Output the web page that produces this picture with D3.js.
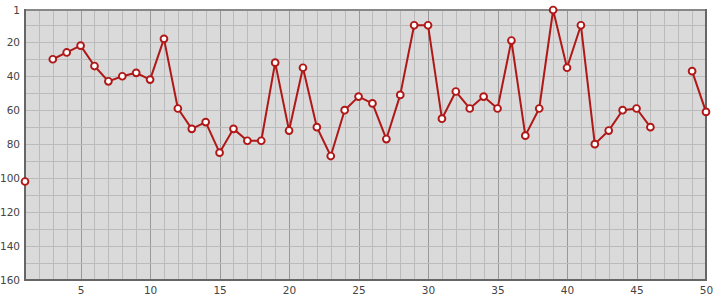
<!DOCTYPE html>
<html>
<head>
<meta charset="utf-8">
<script src="https://cdn.jsdelivr.net/npm/d3@7.9.0/dist/d3.min.js"></script>
<style>
  html, body { margin: 0; padding: 0; background: #fff; }
  svg { display: block; }
  .tick-label { font-family: "DejaVu Sans", Verdana, sans-serif; font-size: 10.5px; fill: #444; }
</style>
</head>
<body>
<svg id="chart" width="715" height="300"></svg>
<script>
// rank per round, null = no entry
const rounds = d3.range(1, 51);
const ranks = [
  102, null, 30, 26, 22, 34, 43, 40, 38, 42,
  18, 59, 71, 67, 85, 71, 78, 78, 32, 72,
  35, 70, 87, 60, 52, 56, 77, 51, 10, 10,
  65, 49, 59, 52, 59, 19, 75, 59, 1, 35,
  10, 80, 72, 60, 59, 70, null, null, 37, 61
];
const xTicks = [5, 10, 15, 20, 25, 30, 35, 40, 45, 50];
const yTicks = [1, 20, 40, 60, 80, 100, 120, 140, 160];

const data = rounds.map((r, i) => ({ round: r, rank: ranks[i] }));

const width = 715;
const height = 300;
const margin = { top: 10, right: 9, bottom: 20, left: 25 };

const svg = d3.select('#chart');

const x = d3.scaleLinear()
  .domain([1, 50])
  .range([margin.left, width - margin.right]);

const y = d3.scaleLinear()
  .domain([1, 160])
  .range([margin.top, height - margin.bottom]);

// plot background
svg.append('rect')
  .attr('x', x(1))
  .attr('y', y(1))
  .attr('width', x(50) - x(1))
  .attr('height', y(160) - y(1))
  .attr('fill', '#dadada');

// grid: one line per round, darker every 5
const grid = svg.append('g').attr('class', 'grid');
grid.selectAll('line.v')
  .data(d3.range(2, 50))
  .join('line')
  .attr('class', 'v')
  .attr('x1', d => Math.round(x(d)) + 0.5)
  .attr('x2', d => Math.round(x(d)) + 0.5)
  .attr('y1', y(1))
  .attr('y2', y(160))
  .attr('stroke', d => d % 5 === 0 ? '#999' : '#bbb')
  .attr('stroke-width', 1);

grid.selectAll('line.h')
  .data(d3.range(10, 160, 10))
  .join('line')
  .attr('class', 'h')
  .attr('x1', x(1))
  .attr('x2', x(50))
  .attr('y1', d => Math.round(y(d)) + 0.5)
  .attr('y2', d => Math.round(y(d)) + 0.5)
  .attr('stroke', '#bbb')
  .attr('stroke-width', 1);

// frame
const frame = svg.append('g');
frame.append('line')
  .attr('x1', x(1)).attr('x2', x(50) + 1)
  .attr('y1', y(1)).attr('y2', y(1))
  .attr('stroke', '#888').attr('stroke-width', 2);
frame.append('line')
  .attr('x1', x(1)).attr('x2', x(1))
  .attr('y1', y(1) - 1).attr('y2', y(160) + 1)
  .attr('stroke', '#666').attr('stroke-width', 2);
frame.append('line')
  .attr('x1', x(50)).attr('x2', x(50))
  .attr('y1', y(1) - 1).attr('y2', y(160) + 1)
  .attr('stroke', '#666').attr('stroke-width', 2);
frame.append('line')
  .attr('x1', x(1) - 1).attr('x2', x(50) + 1)
  .attr('y1', y(160)).attr('y2', y(160))
  .attr('stroke', '#666').attr('stroke-width', 2);

// axis labels
const yAxis = d3.axisLeft(y).tickValues(yTicks).tickSize(0).tickPadding(4);
const gy = svg.append('g')
  .attr('transform', `translate(${x(1) - 1},0)`)
  .call(yAxis);
gy.select('.domain').remove();
gy.selectAll('text').attr('class', 'tick-label').attr('font-family', null).attr('font-size', null);

const xAxis = d3.axisBottom(x).tickValues(xTicks).tickSize(0).tickPadding(7);
const gx = svg.append('g')
  .attr('transform', `translate(0,${y(160)})`)
  .call(xAxis);
gx.select('.domain').remove();
gx.selectAll('text').attr('class', 'tick-label').attr('font-family', null).attr('font-size', null);

// line with gaps
const line = d3.line()
  .defined(d => d.rank !== null)
  .x(d => x(d.round))
  .y(d => y(d.rank));

svg.append('path')
  .datum(data)
  .attr('fill', 'none')
  .attr('stroke', '#b01818')
  .attr('stroke-width', 2)
  .attr('stroke-linejoin', 'round')
  .attr('d', line);

svg.append('g')
  .selectAll('circle')
  .data(data.filter(d => d.rank !== null))
  .join('circle')
  .attr('cx', d => x(d.round))
  .attr('cy', d => y(d.rank))
  .attr('r', 3.4)
  .attr('fill', '#fff')
  .attr('stroke', '#b01818')
  .attr('stroke-width', 1.9);
</script>
</body>
</html>
